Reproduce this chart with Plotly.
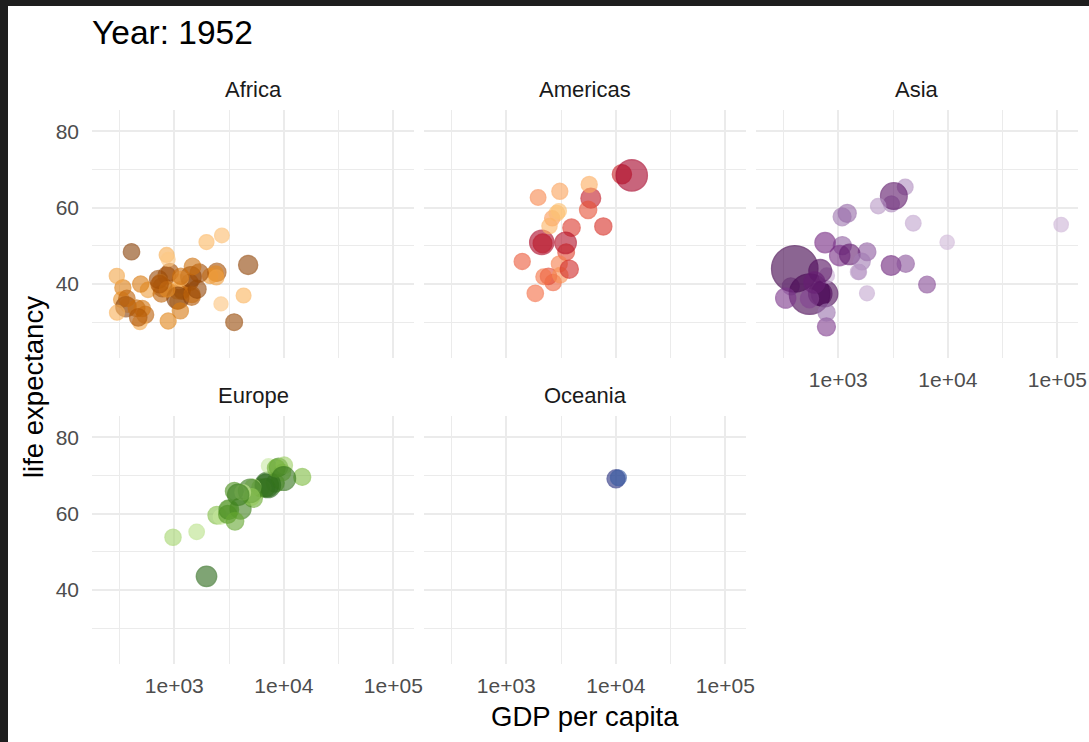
import math
import plotly.graph_objects as go

# ---------------- data: gapminder, year 1952 ----------------
year = 1952

africa_country = ["Algeria", "Angola", "Benin", "Botswana", "Burkina Faso", "Burundi", "Cameroon",
                  "Central African Republic", "Chad", "Comoros", "Congo, Dem. Rep.", "Congo, Rep.",
                  "Cote d'Ivoire", "Djibouti", "Egypt", "Equatorial Guinea", "Eritrea", "Ethiopia", "Gabon",
                  "Gambia", "Ghana", "Guinea", "Guinea-Bissau", "Kenya", "Lesotho", "Liberia", "Libya",
                  "Madagascar", "Malawi", "Mali", "Mauritania", "Mauritius", "Morocco", "Mozambique", "Namibia",
                  "Niger", "Nigeria", "Reunion", "Rwanda", "Sao Tome and Principe", "Senegal", "Sierra Leone",
                  "Somalia", "South Africa", "Sudan", "Swaziland", "Tanzania", "Togo", "Tunisia", "Uganda",
                  "Zambia", "Zimbabwe"]
africa_life = [43.077, 30.015, 38.223, 47.622, 31.975, 39.031, 38.523, 35.463, 38.092, 40.715, 39.143, 42.111,
               40.477, 34.812, 41.893, 34.482, 35.928, 34.078, 37.003, 30.0, 43.149, 33.609, 32.5, 42.27, 42.138,
               38.48, 42.723, 36.681, 36.256, 33.685, 40.543, 50.986, 42.873, 31.286, 41.725, 37.444, 36.324,
               52.724, 40.0, 46.471, 37.278, 30.331, 32.978, 45.009, 38.635, 41.407, 41.215, 38.596, 44.6,
               39.978, 42.038, 48.451]
africa_gdp = [2449.01, 3520.61, 1062.75, 851.24, 543.26, 339.30, 1172.67, 1071.31, 1178.67, 1102.99, 780.54,
              2125.62, 1388.59, 2669.53, 1418.82, 375.64, 328.94, 362.15, 4293.48, 485.23, 911.30, 510.20,
              299.85, 853.54, 298.85, 575.57, 2387.55, 1443.01, 369.17, 452.34, 743.12, 1967.96, 1688.20,
              468.53, 2423.78, 761.88, 1077.28, 2718.89, 493.32, 879.58, 1450.36, 879.79, 1135.75, 4725.30,
              1615.99, 1148.38, 716.65, 859.81, 1468.48, 734.75, 1147.39, 406.88]
africa_pop = [9279525, 4232095, 1738315, 442308, 4469979, 2445618, 5009067, 1291695, 2682462, 153936,
              14100005, 854885, 2977019, 63149, 22223309, 216964, 1438760, 20860941, 420702, 284320, 5581001,
              2664249, 580653, 6464046, 748747, 863308, 1019729, 4762912, 2917802, 3838168, 1022556, 516556,
              9939217, 6446316, 485831, 3379468, 33119096, 257700, 2534927, 60011, 2755589, 2143249, 2526994,
              14264935, 8504667, 290243, 8322925, 1219113, 3647735, 5824797, 2672000, 3080907]

americas_country = ["Argentina", "Bolivia", "Brazil", "Canada", "Chile", "Colombia", "Costa Rica", "Cuba",
                    "Dominican Republic", "Ecuador", "El Salvador", "Guatemala", "Haiti", "Honduras", "Jamaica",
                    "Mexico", "Nicaragua", "Panama", "Paraguay", "Peru", "Puerto Rico", "Trinidad and Tobago",
                    "United States", "Uruguay", "Venezuela"]
americas_life = [62.485, 40.414, 50.917, 68.75, 54.745, 50.643, 57.206, 59.421, 45.928, 48.357, 45.262, 42.023,
                 37.579, 41.912, 58.53, 50.789, 42.314, 55.191, 62.649, 43.902, 64.28, 59.1, 68.44, 66.071, 55.088]
americas_gdp = [5911.32, 2677.33, 2108.94, 11367.16, 3939.98, 2144.12, 2627.01, 5586.54, 1397.72, 3522.11,
                3048.30, 2428.24, 1840.37, 2194.93, 2898.53, 3478.13, 3112.36, 2480.38, 1952.31, 3758.52,
                3081.96, 3023.27, 13990.48, 5716.77, 7689.80]
americas_pop = [17876956, 2883315, 56602560, 14785584, 6377619, 12350771, 926317, 6007797, 2491346, 3548753,
                2042865, 3146381, 3201488, 1517453, 1426095, 30144317, 1165790, 940080, 1555876, 9325464,
                2227000, 662850, 157553000, 2252965, 5439568]

asia_country = ["Afghanistan", "Bahrain", "Bangladesh", "Cambodia", "China", "Hong Kong, China", "India",
                "Indonesia", "Iran", "Iraq", "Israel", "Japan", "Jordan", "Korea, Dem. Rep.", "Korea, Rep.",
                "Kuwait", "Lebanon", "Malaysia", "Mongolia", "Myanmar", "Nepal", "Oman", "Pakistan",
                "Philippines", "Saudi Arabia", "Singapore", "Sri Lanka", "Syria", "Taiwan", "Thailand",
                "Vietnam", "West Bank and Gaza", "Yemen, Rep."]
asia_life = [28.801, 50.939, 37.484, 39.417, 44.0, 60.96, 37.373, 37.468, 44.869, 45.32, 65.39, 63.03, 43.158,
             50.056, 47.453, 55.565, 55.928, 48.463, 42.244, 36.319, 36.157, 37.578, 43.436, 47.752, 39.875,
             60.396, 57.593, 45.883, 58.5, 50.848, 40.412, 43.16, 32.548]
asia_gdp = [779.45, 9867.08, 684.24, 368.47, 400.45, 3054.42, 546.57, 749.68, 3035.33, 4129.77, 4086.52,
            3216.96, 1546.91, 1088.28, 1030.59, 108382.35, 4834.80, 1831.13, 786.57, 331.0, 545.87, 1828.23,
            684.60, 1272.88, 6459.55, 2315.14, 1083.53, 1643.49, 1206.95, 757.80, 605.07, 1515.59, 781.72]
asia_pop = [8425333, 120447, 46886859, 4693836, 556263527, 2125900, 372000000, 82052000, 17272000, 5441766,
            1620914, 86459025, 607914, 8865488, 20947571, 160000, 1439529, 6748378, 800663, 20092996, 9182536,
            507833, 41346560, 22438691, 4005677, 1127000, 7982342, 3661549, 8550362, 21289402, 26246839,
            1030585, 4963829]

europe_country = ["Albania", "Austria", "Belgium", "Bosnia and Herzegovina", "Bulgaria", "Croatia",
                  "Czech Republic", "Denmark", "Finland", "France", "Germany", "Greece", "Hungary", "Iceland",
                  "Ireland", "Italy", "Montenegro", "Netherlands", "Norway", "Poland", "Portugal", "Romania",
                  "Serbia", "Slovak Republic", "Slovenia", "Spain", "Sweden", "Switzerland", "Turkey",
                  "United Kingdom"]
europe_life = [55.23, 66.8, 68.0, 53.82, 59.6, 61.21, 66.87, 70.78, 66.55, 67.41, 67.5, 65.86, 64.03, 72.49,
               66.91, 65.94, 59.164, 72.13, 72.67, 61.31, 59.82, 61.05, 57.996, 64.36, 65.57, 64.94, 71.86,
               69.62, 43.585, 69.18]
europe_gdp = [1601.06, 6137.08, 8343.11, 973.53, 2444.29, 3119.24, 6876.14, 9692.39, 6424.52, 7029.81, 7144.11,
              3530.69, 5263.67, 7267.69, 5210.28, 4931.40, 2647.59, 8941.57, 10095.42, 4029.33, 3068.32,
              3144.61, 3581.46, 5074.66, 4215.04, 3834.03, 8527.84, 14734.23, 1969.10, 9979.51]
europe_pop = [1282697, 6927772, 8730405, 2791000, 7274900, 3882229, 9125183, 4334000, 4090500, 42459667,
              69145952, 7733250, 9504000, 147962, 2952156, 47666000, 413834, 10381988, 3327728, 25730551,
              8526050, 16630000, 6860147, 3558137, 1489518, 28549870, 7124673, 4815000, 22235677, 50430000]

oceania_country = ["Australia", "New Zealand"]
oceania_life = [69.12, 69.39]
oceania_gdp = [10039.60, 10556.58]
oceania_pop = [8691212, 1994794]

# colour order within each continent (darkest first), as seen in the picture
africa_shade_order = ["Nigeria", "Egypt", "Ethiopia", "Zimbabwe", "Congo, Dem. Rep.", "South Africa", "Sudan",
                      "Angola", "Tanzania", "Kenya", "Morocco", "Algeria", "Uganda", "Ghana", "Mozambique",
                      "Madagascar", "Cote d'Ivoire", "Cameroon", "Burkina Faso", "Malawi", "Niger", "Senegal",
                      "Mali", "Zambia", "Tunisia", "Chad", "Guinea", "Somalia", "Rwanda", "Burundi", "Benin",
                      "Sierra Leone", "Libya", "Togo", "Eritrea", "Central African Republic", "Congo, Rep.",
                      "Mauritania", "Liberia", "Namibia", "Lesotho", "Gambia", "Botswana", "Guinea-Bissau",
                      "Gabon", "Mauritius", "Swaziland", "Reunion", "Comoros", "Equatorial Guinea", "Djibouti",
                      "Sao Tome and Principe"]
americas_shade_order = ["United States", "Brazil", "Mexico", "Colombia", "Argentina", "Canada", "Peru",
                        "Venezuela", "Chile", "Ecuador", "Guatemala", "Cuba", "Dominican Republic", "Bolivia",
                        "Haiti", "Honduras", "El Salvador", "Paraguay", "Nicaragua", "Costa Rica", "Puerto Rico",
                        "Uruguay", "Panama", "Jamaica", "Trinidad and Tobago"]
asia_shade_order = ["China", "India", "Indonesia", "Pakistan", "Bangladesh", "Japan", "Philippines", "Vietnam",
                    "Iran", "Thailand", "Korea, Rep.", "Myanmar", "Afghanistan", "Nepal", "Saudi Arabia", "Iraq",
                    "Malaysia", "Korea, Dem. Rep.", "Taiwan", "Yemen, Rep.", "Sri Lanka", "Syria", "Cambodia",
                    "Hong Kong, China", "Israel", "Jordan", "Singapore", "West Bank and Gaza", "Lebanon", "Oman",
                    "Mongolia", "Kuwait", "Bahrain"]
europe_shade_order = ["Germany", "Turkey", "France", "United Kingdom", "Italy", "Spain", "Poland", "Romania",
                      "Netherlands", "Greece", "Portugal", "Belgium", "Czech Republic", "Serbia", "Hungary",
                      "Sweden", "Austria", "Switzerland", "Bulgaria", "Denmark", "Slovak Republic", "Finland",
                      "Norway", "Bosnia and Herzegovina", "Croatia", "Ireland", "Albania", "Slovenia",
                      "Montenegro", "Iceland"]
oceania_shade_order = ["Australia", "New Zealand"]

# ---------------- styling ----------------
W, H = 1089, 742
FONT = "Liberation Sans, Arial, Helvetica, sans-serif"
ALPHA = 0.86
RAMP_SPAN = 0.85          # how far toward the lightest anchor the ramp goes
GRID = "#EBEBEB"

anchors = {
    "Africa": ["#7F3B08", "#B35806", "#E08214", "#FDB863", "#FEE0B6"],
    "Americas": ["#A50026", "#D73027", "#F46D43", "#FDAE61", "#FEE090"],
    "Asia": ["#40004B", "#762A83", "#9970AB", "#C2A5CF", "#E7D4E8"],
    "Europe": ["#276419", "#4D9221", "#7FBC41", "#B8E186", "#E6F5D0"],
    "Oceania": ["#283080", "#3A62A8"],
}

# size scale limits (population over all years of the animation)
POP_MIN, POP_MAX = 60011, 1318683096
X_RANGE = [2.2487, 5.1887]      # log10 GDP, ggplot expanded limits
Y_RANGE = [20.649, 85.553]


def hex2rgb(h):
    h = h.lstrip("#")
    return [int(h[i:i + 2], 16) for i in (0, 2, 4)]


def ramp(cols, n):
    rgb = [hex2rgb(c) for c in cols]
    out = []
    for i in range(n):
        t = (i / (n - 1) if n > 1 else 0.0) * RAMP_SPAN
        pos = t * (len(rgb) - 1)
        k = min(int(pos), len(rgb) - 2)
        f = pos - k
        out.append([round(a + (b - a) * f) for a, b in zip(rgb[k], rgb[k + 1])])
    return out


def colors_for(countries, order, cont):
    pal = ramp(anchors[cont], len(order))
    lut = {c: pal[i] for i, c in enumerate(order)}
    return ["rgba(%d,%d,%d,%.2f)" % (*lut[c], ALPHA) for c in countries]


def size_for(pops):
    return [14 + 50 * math.sqrt((p - POP_MIN) / (POP_MAX - POP_MIN)) for p in pops]


# panel placement in pixels
cols_px = [(92, 414), (424, 746), (756, 1078)]
rows_px = [(110, 358), (416, 664)]

panels = [
    ("Africa", africa_country, africa_gdp, africa_life, africa_pop, africa_shade_order, 0, 0, False, True),
    ("Americas", americas_country, americas_gdp, americas_life, americas_pop, americas_shade_order, 1, 0, False, False),
    ("Asia", asia_country, asia_gdp, asia_life, asia_pop, asia_shade_order, 2, 0, True, False),
    ("Europe", europe_country, europe_gdp, europe_life, europe_pop, europe_shade_order, 0, 1, True, True),
    ("Oceania", oceania_country, oceania_gdp, oceania_life, oceania_pop, oceania_shade_order, 1, 1, True, False),
]

fig = go.Figure()
layout = dict(
    width=W, height=H,
    margin=dict(l=0, r=0, t=0, b=0, pad=0),
    paper_bgcolor="white", plot_bgcolor="white",
    showlegend=False,
    font=dict(family=FONT, color="#1A1A1A"),
    template="none",
)
annotations = []

for i, (name, ctry, gdp, life, pop, order, c, r, showx, showy) in enumerate(panels):
    idx = "" if i == 0 else str(i + 1)
    x0, x1 = cols_px[c]
    y0, y1 = rows_px[r]
    cols = colors_for(ctry, order, name)
    fig.add_trace(go.Scatter(
        x=gdp, y=life, mode="markers", text=ctry,
        xaxis="x" + idx, yaxis="y" + idx,
        marker=dict(size=size_for(pop), color=cols, line=dict(color=cols, width=1.3)),
        hovertemplate="%{text}<extra></extra>",
    ))
    layout["xaxis" + idx] = dict(
        domain=[x0 / W, x1 / W], anchor="y" + idx,
        type="log", range=X_RANGE,
        tickmode="array", tickvals=[1e3, 1e4, 1e5], ticktext=["1e+03", "1e+04", "1e+05"],
        showticklabels=showx, ticks="", ticklabelstandoff=7,
        tickfont=dict(family=FONT, size=21, color="#4D4D4D"),
        showgrid=True, gridcolor=GRID, gridwidth=2,
        minor=dict(tickmode="array", tickvals=[10 ** 2.5, 10 ** 3.5, 10 ** 4.5],
                   showgrid=True, gridcolor=GRID, gridwidth=1, ticks=""),
        zeroline=False, showline=False, fixedrange=True,
    )
    layout["yaxis" + idx] = dict(
        domain=[1 - y1 / H, 1 - y0 / H], anchor="x" + idx,
        range=Y_RANGE,
        tickmode="array", tickvals=[40, 60, 80],
        showticklabels=showy, ticks="", ticklabelstandoff=12,
        tickfont=dict(family=FONT, size=21, color="#4D4D4D"),
        showgrid=True, gridcolor=GRID, gridwidth=2,
        minor=dict(tickmode="array", tickvals=[30, 50, 70],
                   showgrid=True, gridcolor=GRID, gridwidth=1, ticks=""),
        zeroline=False, showline=False, fixedrange=True,
    )
    # facet strip label
    annotations.append(dict(
        text=name, xref="paper", yref="paper",
        x=(x0 + x1) / 2 / W, y=1 - (y0 - 21) / H,
        xanchor="center", yanchor="middle", showarrow=False,
        font=dict(family=FONT, size=22, color="#1A1A1A"),
    ))

annotations += [
    dict(text="Year: %d" % year, xref="paper", yref="paper", x=90 / W, y=1 - 33 / H,
         xanchor="left", yanchor="middle", showarrow=False,
         font=dict(family=FONT, size=33.5, color="black")),
    dict(text="GDP per capita", xref="paper", yref="paper", x=585 / W, y=1 - 716 / H,
         xanchor="center", yanchor="middle", showarrow=False,
         font=dict(family=FONT, size=27.5, color="black")),
    dict(text="life expectancy", xref="paper", yref="paper", x=33 / W, y=1 - 387 / H,
         xanchor="center", yanchor="middle", showarrow=False, textangle=-90,
         font=dict(family=FONT, size=27.5, color="black")),
]
layout["annotations"] = annotations

# dark frame of the screenshot (top and left edges)
layout["shapes"] = [
    dict(type="rect", xref="paper", yref="paper", x0=0, x1=1, y0=1 - 6 / H, y1=1,
         fillcolor="#1E1E1E", line=dict(width=0), layer="above"),
    dict(type="rect", xref="paper", yref="paper", x0=0, x1=8 / W, y0=0, y1=1,
         fillcolor="#1E1E1E", line=dict(width=0), layer="above"),
]

fig.update_layout(**layout)
fig.write_html("out.html", config={"displayModeBar": False})
